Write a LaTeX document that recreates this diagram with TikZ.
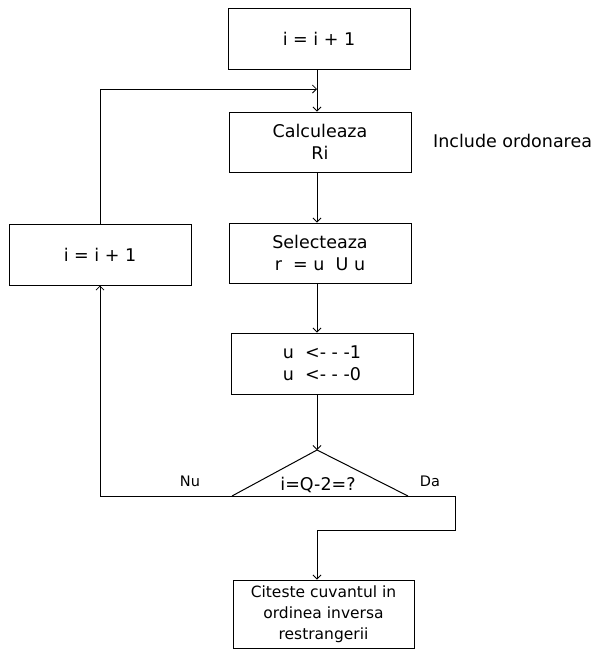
\documentclass[tikz,border=0pt]{standalone}
\usepackage{fontspec}
\setmainfont{DejaVu Sans}
\usetikzlibrary{arrows.meta}
\begin{document}
\begin{tikzpicture}[x=1pt,y=-1pt,
  box/.style={draw,line width=1pt,inner sep=0pt,minimum width=182pt,minimum height=61pt,align=center,font=\fontsize{17.5}{22}\selectfont},
  lbl/.style={inner sep=0pt,font=\fontsize{17.5}{22}\selectfont},
  conn/.style={line width=1pt},
  arr/.style={line width=1pt,-{Straight Barb[length=4pt,width=8pt,line width=0.8pt]}}]
\useasboundingbox (0,0) rectangle (598,649);
\coordinate (spine) at (317,0);
\node[box] (top) at (319,38.5) {i = i + 1};
\node[box,minimum height=60pt] (calc) at (320,142) {Calculeaza\\Ri};
\node[box,minimum height=60pt] (sel) at (320,253) {Selecteaza\\r \ = u \ U u};
\node[box,align=left] (uu) at (322,363.5) {u \ <- - -1\\u \ <- - -0};
\node[box] (left) at (100,254.5) {i = i + 1};
\node[box,minimum width=181pt,minimum height=68pt,font=\fontsize{15.5}{21}\selectfont] (bot) at (323.5,614) {Citeste cuvantul in\\ordinea inversa\\restrangerii};
\node[lbl,anchor=west] (inc) at (433,141) {Include ordonarea};
% decision triangle
\coordinate (apex) at (317,450);
\coordinate (dl) at (232,496);
\coordinate (dr) at (408,496);
\coordinate (nuend) at (100,496);
\coordinate (daend) at (455,496);
\coordinate (dadown) at (455,530);
\coordinate (join) at (0,89);
\draw[conn] (dl) -- (apex) -- (dr);
\draw[conn] (nuend) -- (daend);
\node[lbl] (cond) at (318,485) {i=Q-2=?};
\node[lbl,font=\fontsize{14.5}{16}\selectfont] (nu) at (190,481) {Nu};
\node[lbl,font=\fontsize{14.5}{16}\selectfont] (da) at (430,481) {Da};
% connectors
\draw[arr] (top.south -| spine) -- (calc.north -| spine);
\draw[arr] (left.north) -- (left.north |- join) -- (join -| spine);
\draw[arr] (calc.south -| spine) -- (sel.north -| spine);
\draw[arr] (sel.south -| spine) -- (uu.north -| spine);
\draw[arr] (uu.south -| spine) -- (apex);
\draw[arr] (nuend) -- (left.south);
\draw[arr] (daend) -- (dadown) -- (dadown -| spine) -- (bot.north -| spine);
\end{tikzpicture}
\end{document}
